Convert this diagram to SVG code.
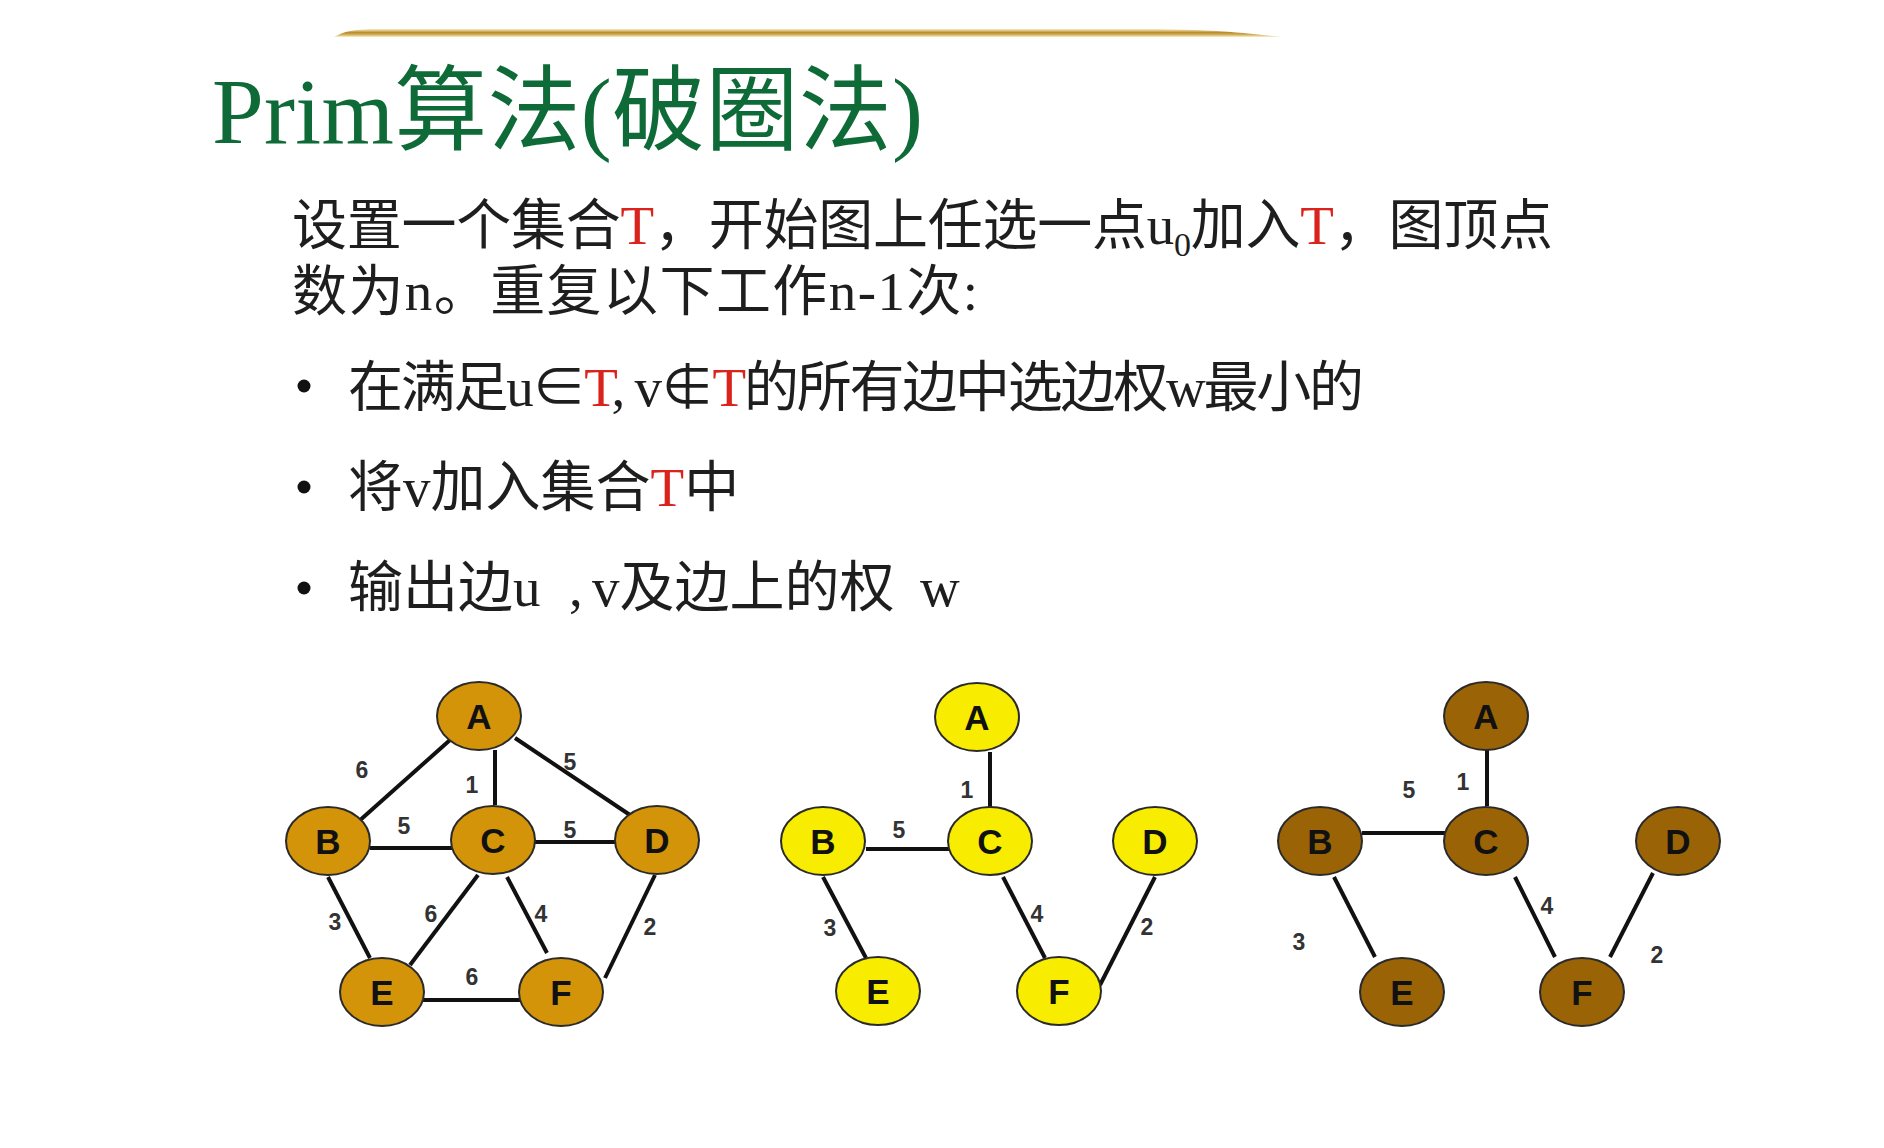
<svg xmlns="http://www.w3.org/2000/svg" width="1884" height="1148" viewBox="0 0 1884 1148">
<defs>
<linearGradient id="gold" x1="0" y1="0" x2="0" y2="1">
<stop offset="0" stop-color="#FBEFC8"/>
<stop offset="0.45" stop-color="#B98C2C"/>
<stop offset="0.7" stop-color="#D2AE5A"/>
<stop offset="1" stop-color="#FBEFC8"/>
</linearGradient>
</defs>
<style>
.title{font-family:"Liberation Serif","Noto Sans CJK SC",serif;font-size:93px;fill:#0E6A37;}
.body{font-family:"Liberation Serif","Noto Sans CJK SC",serif;font-size:55px;fill:#1E1E1E;}
.red{fill:#D9231C;}
.bullet{fill:#111;}
.edge{stroke:#111;stroke-width:4;stroke-linecap:butt;fill:none;}
.node ellipse{stroke:#2A2A2A;stroke-width:2;}
.g1 ellipse{fill:#D4940A;}
.g2 ellipse{fill:#F8EC00;}
.g3 ellipse{fill:#9A6306;}
.nl{font-family:"Liberation Sans",Arial,sans-serif;font-weight:bold;font-size:35px;fill:#111;text-anchor:middle;}
.el{font-family:"Liberation Sans",Arial,sans-serif;font-weight:bold;font-size:23px;fill:#333;text-anchor:middle;}
</style>
<rect width="1884" height="1148" fill="#FFFFFF"/>
<path d="M334,37 C344,31 356,29 376,29 L1140,29 C1200,29 1240,32 1280,37 Z" fill="url(#gold)"/>

<text class="title" x="212" y="143" textLength="711" lengthAdjust="spacing">Prim算法(破圈法)</text>

<text class="body" x="292" y="244" textLength="1261" lengthAdjust="spacing">设置一个集合<tspan class="red">T</tspan>，开始图上任选一点u<tspan font-size="34" dy="12">0</tspan><tspan dy="-12">加入</tspan><tspan class="red">T</tspan>，图顶点</text>
<text class="body" x="292" y="310" textLength="686" lengthAdjust="spacing">数为n。重复以下工作n-1次:</text>

<circle class="bullet" cx="304" cy="386" r="6.5"/>
<circle class="bullet" cx="304" cy="487" r="6.5"/>
<circle class="bullet" cx="304" cy="588" r="6.5"/>
<text class="body" x="348" y="406" textLength="1016" lengthAdjust="spacing">在满足u∈<tspan class="red">T</tspan>, v∉<tspan class="red">T</tspan>的所有边中选边权w最小的</text>
<text class="body" x="348" y="506">将v加入集合<tspan class="red">T</tspan>中</text>
<text class="body" y="606"><tspan x="348">输出边u</tspan><tspan x="569">,</tspan><tspan x="592">v及边上的权</tspan><tspan x="920">w</tspan></text>

<g id="connectors">
<g id="edges-graph1">
<line class="edge" x1="450" y1="740" x2="358" y2="822"/>
<line class="edge" x1="495" y1="750" x2="495" y2="805"/>
<line class="edge" x1="515" y1="738" x2="630" y2="815"/>
<line class="edge" x1="370" y1="848" x2="453" y2="848"/>
<line class="edge" x1="533" y1="842" x2="617" y2="842"/>
<line class="edge" x1="328" y1="877" x2="370" y2="958"/>
<line class="edge" x1="478" y1="875" x2="410" y2="965"/>
<line class="edge" x1="507" y1="877" x2="547" y2="953"/>
<line class="edge" x1="655" y1="875" x2="605" y2="978"/>
<line class="edge" x1="423" y1="1000" x2="522" y2="1000"/>
</g>
<g id="edges-graph2">
<line class="edge" x1="990" y1="752" x2="990" y2="807"/>
<line class="edge" x1="866" y1="849" x2="949" y2="849"/>
<line class="edge" x1="823" y1="877" x2="866" y2="958"/>
<line class="edge" x1="1003" y1="877" x2="1045" y2="958"/>
<line class="edge" x1="1155" y1="877" x2="1100" y2="985"/>
</g>
<g id="edges-graph3">
<line class="edge" x1="1487" y1="750" x2="1487" y2="806"/>
<line class="edge" x1="1362" y1="833" x2="1445" y2="833"/>
<line class="edge" x1="1334" y1="877" x2="1375" y2="957"/>
<line class="edge" x1="1515" y1="877" x2="1555" y2="957"/>
<line class="edge" x1="1653" y1="873" x2="1610" y2="957"/>
</g>
<g id="edge-labels">
<text class="el" x="362" y="778">6</text>
<text class="el" x="472" y="793">1</text>
<text class="el" x="570" y="770">5</text>
<text class="el" x="404" y="834">5</text>
<text class="el" x="570" y="838">5</text>
<text class="el" x="335" y="930">3</text>
<text class="el" x="431" y="922">6</text>
<text class="el" x="541" y="922">4</text>
<text class="el" x="650" y="935">2</text>
<text class="el" x="472" y="985">6</text>

<text class="el" x="967" y="798">1</text>
<text class="el" x="899" y="838">5</text>
<text class="el" x="830" y="936">3</text>
<text class="el" x="1037" y="922">4</text>
<text class="el" x="1147" y="935">2</text>

<text class="el" x="1409" y="798">5</text>
<text class="el" x="1463" y="790">1</text>
<text class="el" x="1299" y="950">3</text>
<text class="el" x="1547" y="914">4</text>
<text class="el" x="1657" y="963">2</text>
</g>
</g>

<g id="graph1" class="g1">
<g id="g1-A" class="node"><ellipse cx="479" cy="716" rx="42" ry="34"/><text class="nl" x="479" y="729">A</text></g>
<g id="g1-B" class="node"><ellipse cx="328" cy="841" rx="42" ry="34"/><text class="nl" x="328" y="854">B</text></g>
<g id="g1-C" class="node"><ellipse cx="493" cy="840" rx="42" ry="34"/><text class="nl" x="493" y="853">C</text></g>
<g id="g1-D" class="node"><ellipse cx="657" cy="840" rx="42" ry="34"/><text class="nl" x="657" y="853">D</text></g>
<g id="g1-E" class="node"><ellipse cx="382" cy="992" rx="42" ry="34"/><text class="nl" x="382" y="1005">E</text></g>
<g id="g1-F" class="node"><ellipse cx="561" cy="992" rx="42" ry="34"/><text class="nl" x="561" y="1005">F</text></g>
</g>

<g id="graph2" class="g2">
<g id="g2-A" class="node"><ellipse cx="977" cy="717" rx="42" ry="34"/><text class="nl" x="977" y="730">A</text></g>
<g id="g2-B" class="node"><ellipse cx="823" cy="841" rx="42" ry="34"/><text class="nl" x="823" y="854">B</text></g>
<g id="g2-C" class="node"><ellipse cx="990" cy="841" rx="42" ry="34"/><text class="nl" x="990" y="854">C</text></g>
<g id="g2-D" class="node"><ellipse cx="1155" cy="841" rx="42" ry="34"/><text class="nl" x="1155" y="854">D</text></g>
<g id="g2-E" class="node"><ellipse cx="878" cy="991" rx="42" ry="34"/><text class="nl" x="878" y="1004">E</text></g>
<g id="g2-F" class="node"><ellipse cx="1059" cy="991" rx="42" ry="34"/><text class="nl" x="1059" y="1004">F</text></g>
</g>

<g id="graph3" class="g3">
<g id="g3-A" class="node"><ellipse cx="1486" cy="716" rx="42" ry="34"/><text class="nl" x="1486" y="729">A</text></g>
<g id="g3-B" class="node"><ellipse cx="1320" cy="841" rx="42" ry="34"/><text class="nl" x="1320" y="854">B</text></g>
<g id="g3-C" class="node"><ellipse cx="1486" cy="841" rx="42" ry="34"/><text class="nl" x="1486" y="854">C</text></g>
<g id="g3-D" class="node"><ellipse cx="1678" cy="841" rx="42" ry="34"/><text class="nl" x="1678" y="854">D</text></g>
<g id="g3-E" class="node"><ellipse cx="1402" cy="992" rx="42" ry="34"/><text class="nl" x="1402" y="1005">E</text></g>
<g id="g3-F" class="node"><ellipse cx="1582" cy="992" rx="42" ry="34"/><text class="nl" x="1582" y="1005">F</text></g>
</g>
</svg>
